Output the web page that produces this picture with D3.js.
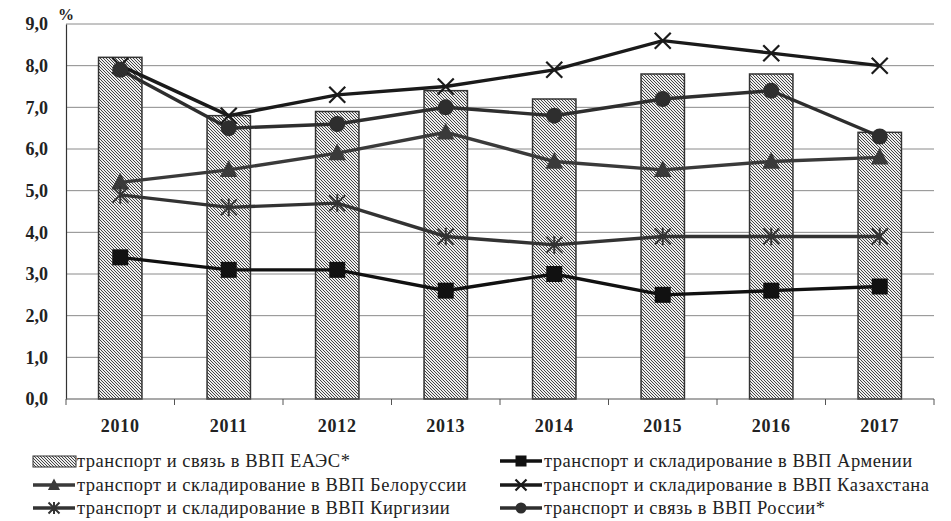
<!DOCTYPE html>
<html>
<head>
<meta charset="utf-8">
<script src="https://cdn.jsdelivr.net/npm/d3@7"></script>
<style>
  body { margin: 0; background: #fff; }
  text { font-family: "Liberation Serif", "DejaVu Serif", serif; fill: #222; }
</style>
</head>
<body>
<div id="chart"></div>
<script>
'use strict';

const width = 951;
const height = 521;

// data
const years = ['2010', '2011', '2012', '2013', '2014', '2015', '2016', '2017'];
const eaesValues = [8.2, 6.8, 6.9, 7.4, 7.2, 7.8, 7.8, 6.4];
const armeniaValues = [3.4, 3.1, 3.1, 2.6, 3.0, 2.5, 2.6, 2.7];
const belarusValues = [5.2, 5.5, 5.9, 6.4, 5.7, 5.5, 5.7, 5.8];
const kazakhValues = [8.0, 6.8, 7.3, 7.5, 7.9, 8.6, 8.3, 8.0];
const kyrgyzValues = [4.9, 4.6, 4.7, 3.9, 3.7, 3.9, 3.9, 3.9];
const russiaValues = [7.9, 6.5, 6.6, 7.0, 6.8, 7.2, 7.4, 6.3];
const yTicks = [0, 1, 2, 3, 4, 5, 6, 7, 8, 9];

const barLabel = 'транспорт  и связь в ВВП ЕАЭС*';
const lineSeries = [
    {name: 'транспорт  и складирование в ВВП Армении', values: armeniaValues, marker: 'square', color: '#111'},
    {name: 'транспорт  и складирование в ВВП Белоруссии', values: belarusValues, marker: 'triangle', color: '#3a3a3a'},
    {name: 'транспорт  и складирование в ВВП Казахстана', values: kazakhValues, marker: 'cross', color: '#1a1a1a'},
    {name: 'транспорт  и складирование в ВВП Киргизии', values: kyrgyzValues, marker: 'star', color: '#333'},
    {name: 'транспорт  и связь в ВВП России*', values: russiaValues, marker: 'circle', color: '#2e2e2e'}
];

const margin = {top: 24, left: 66, right: 17, bottom: 122};
const plotW = width - margin.left - margin.right;
const plotH = height - margin.top - margin.bottom;

const x = d3.scaleBand().domain(years).range([0, plotW]);
const y = d3.scaleLinear().domain([0, 9]).range([plotH, 0]);

const svg = d3.select('#chart').append('svg')
    .attr('width', width)
    .attr('height', height);

// hatch pattern for the bars
const defs = svg.append('defs');
const pat = defs.append('pattern')
    .attr('id', 'hatch')
    .attr('patternUnits', 'userSpaceOnUse')
    .attr('width', 3)
    .attr('height', 3);
pat.append('rect').attr('width', 3).attr('height', 3).attr('fill', '#eee');
pat.append('path')
    .attr('d', 'M0,0 L3,3 M-1,2 L1,4 M2,-1 L4,1')
    .attr('stroke', '#444')
    .attr('stroke-width', 1);

const g = svg.append('g').attr('transform', `translate(${margin.left},${margin.top})`);

// gridlines
g.selectAll('.grid').data(yTicks.slice(1))
    .enter().append('line')
    .attr('x1', 0).attr('x2', plotW)
    .attr('y1', d => y(d)).attr('y2', d => y(d))
    .attr('stroke', '#8a8a8a')
    .attr('stroke-width', 1);

// y axis
const yAxis = g.append('g').call(d3.axisLeft(y).tickValues(yTicks).tickSize(0).tickPadding(18)
    .tickFormat(d => d3.format('.1f')(d).replace('.', ',')));
yAxis.select('.domain').attr('stroke', '#333').attr('stroke-width', 1.2);
yAxis.selectAll('text')
    .attr('font-size', 18).attr('font-weight', 'bold')
    .attr('font-family', '"Liberation Serif", serif')
    .attr('fill', '#222');

svg.append('text')
    .attr('x', margin.left - 8).attr('y', 20)
    .attr('font-size', 16).attr('font-weight', 'bold')
    .text('%');

// bars
g.selectAll('.bar').data(eaesValues)
    .enter().append('rect')
    .attr('x', (d, i) => x(years[i]) + x.bandwidth() * 0.3)
    .attr('width', x.bandwidth() * 0.4)
    .attr('y', d => y(d))
    .attr('height', d => plotH - y(d))
    .attr('fill', 'url(#hatch)')
    .attr('stroke', '#333')
    .attr('stroke-width', 1.5);

// x axis
const xAxis = g.append('g').attr('transform', `translate(0,${plotH})`);
xAxis.append('line').attr('x1', 0).attr('x2', plotW).attr('stroke', '#555').attr('stroke-width', 1.2);
xAxis.selectAll('.tick').data(d3.range(years.length + 1))
    .enter().append('line')
    .attr('x1', d => d * x.step()).attr('x2', d => d * x.step())
    .attr('y1', 0).attr('y2', 6)
    .attr('stroke', '#555');
xAxis.selectAll('.lbl').data(years)
    .enter().append('text')
    .attr('x', d => x(d) + x.bandwidth() / 2)
    .attr('y', 33)
    .attr('text-anchor', 'middle')
    .attr('font-size', 18).attr('font-weight', 'bold')
    .attr('letter-spacing', 0.8)
    .text(d => d);

// markers
function drawMarker(sel, type, color, size) {
    const s = size;
    if (type === 'square') {
        sel.append('rect').attr('x', -s / 2).attr('y', -s / 2).attr('width', s).attr('height', s).attr('fill', color);
    } else if (type === 'circle') {
        sel.append('circle').attr('r', s / 2).attr('fill', color);
    } else if (type === 'triangle') {
        sel.append('path').attr('d', `M0,${-s * 0.6} L${s * 0.55},${s * 0.45} L${-s * 0.55},${s * 0.45} Z`).attr('fill', color);
    } else if (type === 'cross') {
        sel.append('path').attr('d', `M${-s / 2},${-s / 2} L${s / 2},${s / 2} M${-s / 2},${s / 2} L${s / 2},${-s / 2}`)
            .attr('stroke', color).attr('stroke-width', 2.2);
    } else if (type === 'star') {
        const h = s / 2;
        sel.append('path').attr('d', `M${-h},${-h} L${h},${h} M${-h},${h} L${h},${-h} M0,${-h * 1.1} L0,${h * 1.1}`)
            .attr('stroke', color).attr('stroke-width', 2);
    }
}

const line = d3.line()
    .x((d, i) => x(years[i]) + x.bandwidth() / 2)
    .y(d => y(d));

lineSeries.forEach(s => {
    g.append('path')
        .datum(s.values)
        .attr('d', line)
        .attr('fill', 'none')
        .attr('stroke', s.color)
        .attr('stroke-width', 3.4);
});

lineSeries.forEach(s => {
    g.selectAll(null).data(s.values)
        .enter().append('g')
        .attr('transform', (d, i) => `translate(${x(years[i]) + x.bandwidth() / 2},${y(d)})`)
        .each(function() { drawMarker(d3.select(this), s.marker, s.color, 16); });
});

// legend
const legend = svg.append('g').attr('font-size', 18.5);
const legendItems = [
    {name: barLabel, bar: true, col: 0, row: 0},
    {...lineSeries[0], col: 1, row: 0},
    {...lineSeries[1], col: 0, row: 1},
    {...lineSeries[2], col: 1, row: 1},
    {...lineSeries[3], col: 0, row: 2},
    {...lineSeries[4], col: 1, row: 2}
];
const colX = [33, 500];
const rowY = [461, 485, 508];

legendItems.forEach(it => {
    const lg = legend.append('g').attr('transform', `translate(${colX[it.col]},${rowY[it.row]})`);
    if (it.bar) {
        lg.append('rect').attr('x', 0).attr('y', -5).attr('width', 43).attr('height', 11)
            .attr('fill', 'url(#hatch)').attr('stroke', '#333').attr('stroke-width', 1);
    } else {
        lg.append('line').attr('x1', 0).attr('x2', 42).attr('stroke', it.color).attr('stroke-width', 3.4);
        const m = lg.append('g').attr('transform', 'translate(21,0)');
        drawMarker(m, it.marker, it.color, 11);
    }
    lg.append('text').attr('x', 44).attr('y', 6).attr('letter-spacing', 0.5).text(it.name);
});
</script>
</body>
</html>
